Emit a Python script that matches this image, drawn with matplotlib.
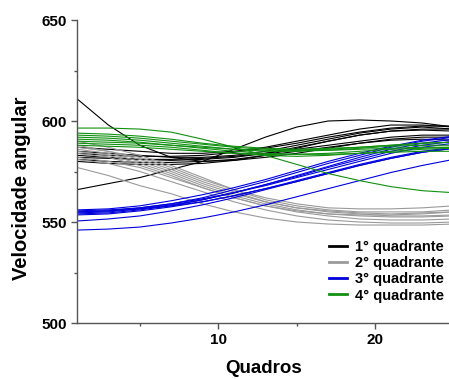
import numpy as np
import matplotlib
matplotlib.use("Agg")
import matplotlib.pyplot as plt
from matplotlib.ticker import MultipleLocator

plt.rcParams['font.family'] = ['Liberation Sans', 'DejaVu Sans']

frames = [1, 3, 5, 7, 9, 11, 13, 15, 17, 19, 21, 23, 25]

# 1o quadrante (black)
q1 = [
    [611, 598, 588, 582, 580, 580.5, 583, 586.5, 590, 593, 595, 595.5, 595],
    [566, 569, 572, 576, 580, 586, 592, 597, 600, 600.5, 600, 599, 597],
    [587, 586, 585, 584, 584, 585, 587, 590, 593, 596, 598, 598, 597],
    [585, 584, 583, 582, 582, 583, 585, 588, 591, 594, 596, 597, 596],
    [583, 582, 581, 580.5, 581, 582, 584, 587, 590, 593, 595, 596, 596],
    [582, 581.5, 581, 581, 581.5, 582.5, 584, 586, 588, 590, 592, 593, 593],
    [581, 580, 579.5, 579.5, 580, 581, 583, 585, 587, 589, 591, 592, 592],
    [584, 583, 582.5, 582.5, 583, 584.5, 586.5, 589, 592, 594.5, 596.5, 597.5, 597.5],
    [580, 579, 578.5, 578.5, 579, 580.5, 582, 584, 586.5, 589, 590.5, 591, 590.5],
]

# 2o quadrante (gray)
q2 = [
    [590, 587, 583, 578, 572, 566, 561, 558, 556, 555, 555, 555, 556],
    [588, 585, 581, 576, 570, 565, 560, 557, 555.5, 554.5, 554, 554.5, 555],
    [586, 584, 580, 575, 569, 564, 560, 557, 555, 554, 553, 553, 553.5],
    [585, 583, 579, 574, 568, 563, 559, 556, 554, 553, 552.5, 552.5, 553],
    [584, 582, 578, 573, 567, 562, 558, 555.5, 554, 553.5, 553.5, 554, 555],
    [582, 580, 577, 572, 567, 562, 558, 555, 553, 551.5, 551, 551, 551.5],
    [581, 579, 575, 570, 565, 560, 556, 553, 551, 550, 549.5, 549.5, 550],
    [587, 585, 582, 577, 571, 566, 562, 559, 557, 556.5, 556.5, 557, 558],
    [577, 573, 568, 564, 559, 555, 552, 550, 549, 548.5, 548.5, 548.5, 549],
]

# 3o quadrante (blue)
q3 = [
    [555, 555.5, 557, 559, 562, 566, 570, 574.5, 579, 583, 587, 590, 592],
    [556, 556.5, 558, 560.5, 563.5, 567, 571, 575.5, 580, 584, 587.5, 590.5, 592.5],
    [554.5, 555, 556.5, 558.5, 561, 564.5, 568.5, 572.5, 577, 581, 585, 588, 590],
    [555.5, 556, 557, 559, 561.5, 564.5, 568, 572, 576, 580, 584, 587, 589],
    [553.5, 554, 555.5, 557.5, 560, 563, 566.5, 570.5, 574.5, 578.5, 582, 585, 587],
    [555, 555.5, 556.5, 558, 560, 563, 566.5, 570, 574, 578, 581.5, 584.5, 586.5],
    [550.5, 551.5, 553, 555.5, 558.5, 562, 566, 570, 574, 578, 581.5, 584.5, 586.5],
    [546, 546.5, 547.5, 549.5, 552, 555, 558.5, 562.5, 566.5, 570.5, 574.5, 578, 581],
    [554, 554.5, 556, 558, 561, 564.5, 568.5, 573, 577.5, 582, 586, 589, 591],
]

# 4o quadrante (green)
q4 = [
    [596.5, 596.5, 596, 594.5, 591, 587, 583, 578.5, 574, 570.5, 567.5, 565.5, 564.5],
    [594, 593.5, 592.5, 591, 589, 587.5, 586.5, 586, 586.5, 587, 588, 589, 589.5],
    [592, 591.5, 590.5, 589, 587.5, 586, 585, 585, 585.5, 586.5, 587.5, 588, 588],
    [591, 590.5, 589.5, 588, 586.5, 585, 584, 583.5, 583.5, 584, 584.5, 585, 585],
    [590, 589.5, 589, 588, 587, 586, 585.5, 585.5, 586, 587, 588, 589, 589.5],
    [589, 588.5, 588, 587, 585.5, 584, 583, 582.5, 583, 584, 585, 586, 586.5],
    [588, 587.5, 587, 586, 585, 584, 583.5, 583.5, 584, 585, 586, 586.5, 587],
    [593, 592.5, 591.5, 590, 588.5, 587, 586, 585.5, 585.5, 586, 586.5, 587, 587],
]

labels = ["1° quadrante", "2° quadrante", "3° quadrante", "4° quadrante"]
colors = ["#000000", "#9a9a9a", "#0000dd", "#119011"]

fig = plt.figure(figsize=(4.49, 3.79), dpi=100)
ax = fig.add_axes([77 / 449, 1 - 323 / 379, 1 - 77 / 449, (323 - 20) / 379])

groups = [q1, q2, q3, q4]
for group, col, lab in zip(groups, colors, labels):
    for i, curve in enumerate(group):
        ax.plot(frames, curve, color=col, lw=0.8,
                label=lab if i == 0 else None)

ax.set_xlim(1, 24.7)
ax.set_ylim(500, 650)
ax.xaxis.set_major_locator(MultipleLocator(10))
ax.xaxis.set_minor_locator(MultipleLocator(5))
ax.yaxis.set_major_locator(MultipleLocator(50))
ax.yaxis.set_minor_locator(MultipleLocator(25))

for s in ["top", "right"]:
    ax.spines[s].set_visible(False)
for s in ["left", "bottom"]:
    ax.spines[s].set_color("#555555")
    ax.spines[s].set_linewidth(1.0)
ax.tick_params(which="major", direction="out", length=4, width=1,
               color="#555555", labelsize=11, pad=3)
ax.tick_params(which="minor", direction="out", length=2.5, width=1,
               color="#555555")
for t in ax.get_xticklabels() + ax.get_yticklabels():
    t.set_fontweight("bold")

ax.set_xlabel("Quadros", fontsize=13.5, fontweight="bold")
ax.set_ylabel("Velocidade angular", fontsize=14.5, fontweight="bold")
ax.xaxis.set_label_coords((264 - 77) / 372, -(360 - 323) / 303)
ax.yaxis.set_label_coords(-(77 - 31) / 372, (323 - 188) / 303)

leg = ax.legend(loc="upper left", bbox_to_anchor=(329 / 449, 1 - 240 / 379),
                bbox_transform=fig.transFigure, frameon=False,
                prop={"size": 10.5, "weight": "bold"},
                handlelength=1.25, handletextpad=0.5,
                borderpad=0, borderaxespad=0, labelspacing=0.15)
for line in leg.get_lines():
    line.set_linewidth(2)

fig.savefig("out.png", dpi=100)
